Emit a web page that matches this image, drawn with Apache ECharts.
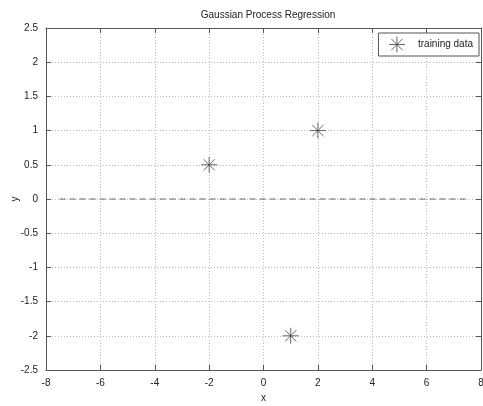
<!DOCTYPE html>
<html><head><meta charset="utf-8">
<script src="https://cdn.jsdelivr.net/npm/echarts@6/dist/echarts.min.js"></script>
<style>html,body{margin:0;padding:0;background:#fff}#c{width:483px;height:406px}</style>
</head><body><div id="c"></div>
<script>
const trainX = [-2, 2, 1];
const trainY = [0.5, 1, -2];
const meanX = [-7.5, 7.5];
const meanY = [0, 0];
const xTicks = [-8, -6, -4, -2, 0, 2, 4, 6, 8];
const yTicks = [-2.5, -2, -1.5, -1, -0.5, 0, 0.5, 1, 1.5, 2, 2.5];

const star = 'path://M0,-10L0,10M-10,0L10,0M-7,-7L7,7M-7,7L7,-7';
const font = 'Liberation Sans, Arial, sans-serif';
const chart = echarts.init(document.getElementById('c'));
const axCommon = {
  type: 'value',
  axisLine: {show: true, onZero: false, lineStyle: {color: '#555', width: 1}},
  axisTick: {show: true, inside: true, length: 5, lineStyle: {color: '#555'}},
};
chart.setOption({
  animation: false,
  title: {text: 'Gaussian Process Regression', left: 263, top: 5, textAlign: 'center',
    textStyle: {fontFamily: font, fontSize: 10, fontWeight: 'normal', color: '#222'}},
  grid: {left: 46, right: 2, top: 28, bottom: 36, containLabel: false, outerBoundsMode: 'none'},
  legend: {right: 4, top: 33, itemWidth: 16, itemHeight: 16, padding: [1, 6, 1, 8], itemGap: 4,
    backgroundColor: '#fff', borderColor: '#555', borderWidth: 1, borderRadius: 0,
    textStyle: {fontFamily: font, fontSize: 10, color: '#222', padding: [0,0,0,8]},
    data: [{name: 'training data', icon: star, itemStyle: {color: 'none', borderColor: '#444', borderWidth: 1}}]},
  xAxis: [
    Object.assign({}, axCommon, {min: -8, max: 8, interval: 2, position: 'bottom',
      name: 'x', nameLocation: 'middle', nameGap: 23, nameMoveOverlap: false,
      nameTextStyle: {fontFamily: font, fontSize: 10, color: '#222'},
      axisLabel: {fontFamily: font, fontSize: 10, color: '#222', margin: 8},
      splitLine: {show: true, lineStyle: {color: '#bbb', type: [1, 2]}}}),
    Object.assign({}, axCommon, {min: -8, max: 8, interval: 2, position: 'top',
      axisLabel: {show: false}, splitLine: {show: false}})
  ],
  yAxis: [
    Object.assign({}, axCommon, {min: -2.5, max: 2.5, interval: 0.5, position: 'left',
      name: 'y', nameLocation: 'middle', nameGap: 26, nameRotate: 90, nameMoveOverlap: false,
      nameTextStyle: {fontFamily: font, fontSize: 10, color: '#222'},
      axisLabel: {fontFamily: font, fontSize: 10, color: '#222', margin: 8},
      splitLine: {show: true, lineStyle: {color: '#bbb', type: [1, 2]}}}),
    Object.assign({}, axCommon, {min: -2.5, max: 2.5, interval: 0.5, position: 'right',
      axisLabel: {show: false}, splitLine: {show: false}})
  ],
  series: [
    {name: 'mean', type: 'line', data: meanX.map((x, i) => [x, meanY[i]]), showSymbol: false,
      lineStyle: {color: '#666', width: 1, type: [6, 4]}, silent: true},
    {name: 'training data', type: 'scatter', data: trainX.map((x, i) => [x, trainY[i]]),
      symbol: star, symbolSize: 16,
      itemStyle: {color: 'none', borderColor: '#444', borderWidth: 1}}
  ]
});
</script></body></html>
